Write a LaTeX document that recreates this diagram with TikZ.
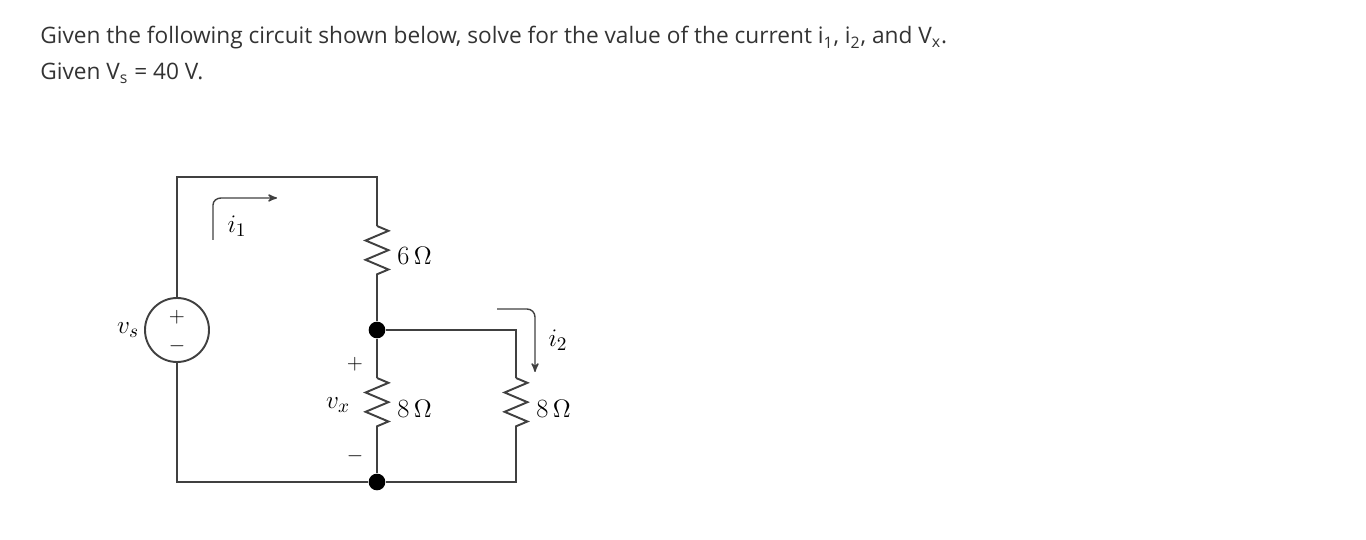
\documentclass[tikz,border=0pt]{standalone}
\usepackage{fontspec}
\setmainfont{Latin Modern Roman}
\newfontfamily\hdfont{Open Sans}
\usetikzlibrary{positioning}
\usetikzlibrary{decorations.pathmorphing}
\usetikzlibrary{arrows}
\tikzset{wire/.style={line width=1.1pt, black!75}}
\tikzset{res/.style={wire, decorate, decoration={zigzag, segment length=11pt, amplitude=6.5pt}}}
\tikzset{dot/.style={circle, fill=black, inner sep=0pt, minimum size=9.5pt}}
\tikzset{lbl/.style={font=\fontsize{15pt}{17pt}\selectfont}}

\begin{document}
\begin{tikzpicture}[x=0.02cm, y=-0.02cm]
\tikzset{
  hd/.style={anchor=base west, inner sep=0pt, font=\hdfont\fontsize{12.9pt}{15pt}\selectfont, text=black!80},
  cur/.style={->, >=stealth', line width=0.8pt, black!75},
}
\useasboundingbox (0,0) rectangle (1366,540);

\node [hd] (q1) at (40,44) {Given the following circuit shown below, solve for the value of the current i\textsubscript{1}, i\textsubscript{2}, and V\textsubscript{x}.};
\node [hd] (q2) at (40,80) {Given V\textsubscript{s} = 40 V.};

% corners and junctions
\coordinate (tl) at (177,177);
\coordinate (tm) at (377,177);
\coordinate (bl) at (177,482);
\coordinate (br) at (516,482);
\coordinate (jr) at (516,330);
\node [dot] (ja) at (377,330) {};
\node [dot] (jb) at (377,482) {};
\node [circle, wire, draw, minimum size=64*0.02cm, inner sep=0pt] (vs) at (177,330) {};
\node [font=\large] at ([yshift=7pt]vs.center) {$+$};
\node [font=\large] at ([yshift=-9pt]vs.center) {$-$};
\node [lbl] (vsl) at (128,330) {$v_s$};

% resistors
\coordinate (r1a) at (377,226);
\coordinate (r1b) at (377,280);
\coordinate (r2a) at (377,378);
\coordinate (r2b) at (377,434);
\coordinate (r3a) at (516,378);
\coordinate (r3b) at (516,434);
\draw [res] (r1a) -- (r1b);
\draw [res] (r2a) -- (r2b);
\draw [res] (r3a) -- (r3b);
\node [lbl, anchor=west, inner sep=0pt] (r1l) at (397,256) {6\,$\Omega$};
\node [lbl, anchor=west, inner sep=0pt] (r2l) at (397,409) {8\,$\Omega$};
\node [lbl, anchor=west, inner sep=0pt] (r3l) at (536,409) {8\,$\Omega$};

% wires
\draw [wire] (vs.north) -- (tl) -- (tm) -- (r1a);
\draw [wire] (r1b) -- (ja) -- (r2a);
\draw [wire] (r2b) -- (jb);
\draw [wire] (ja) -- (jr) -- (r3a);
\draw [wire] (r3b) -- (br) -- (jb) -- (bl) -- (vs.south);

% currents and voltage
\draw [cur] (213,240) -- (213,205) to[out=90, in=180] (221,198) -- (277,198);
\node [lbl] (i1) at (237,226) {$i_1$};
\draw [cur] (497,309) -- (527,309) to[out=0, in=90] (535,317) -- (535,372);
\node [lbl] (i2) at (558,340) {$i_2$};
\node [font=\large] (vp) at (355,364) {$+$};
\node [font=\large] (vm) at (355,456) {$-$};
\node [lbl] (vx) at (338,405) {$v_x$};
\end{tikzpicture}
\end{document}
